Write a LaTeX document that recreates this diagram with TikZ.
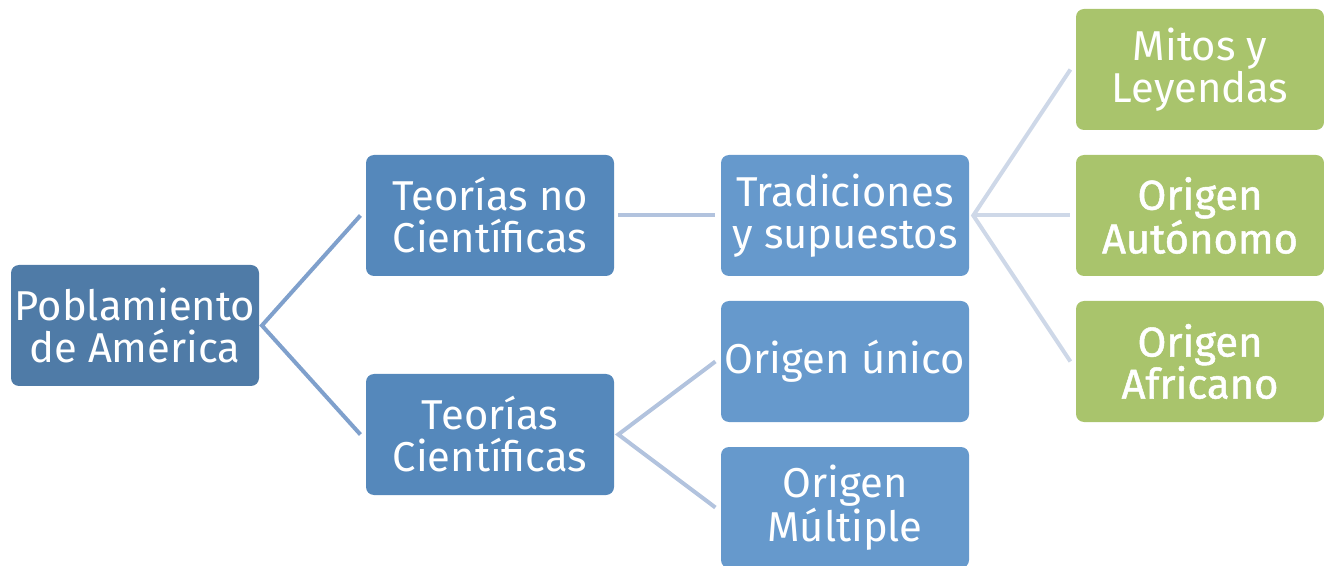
\documentclass[tikz,border=0pt]{standalone}
\usepackage{fontspec}
\setmainfont{Fira Sans}
\newfontfamily\semib[FakeBold=1.2]{Fira Sans}
\definecolor{rootc}{RGB}{79,123,167}
\definecolor{levA}{RGB}{85,136,187}
\definecolor{levB}{RGB}{102,153,204}
\definecolor{greenc}{RGB}{169,196,108}
\definecolor{lineA}{RGB}{127,160,204}
\definecolor{lineB}{RGB}{178,195,222}
\definecolor{lineC}{RGB}{206,216,232}
\tikzset{
  box/.style={rectangle, rounded corners=6pt, minimum width=186pt, minimum height=90.75pt,
    inner sep=0pt, align=center, text=white, font=\fontsize{31.3}{31.5}\selectfont},
  rootbox/.style={box, fill=rootc},
  abox/.style={box, fill=levA},
  bbox/.style={box, fill=levB},
  gbox/.style={box, fill=greenc},
  conn/.style={line width=3pt},
}
\begin{document}
\begin{tikzpicture}[x=0.75pt,y=0.75pt]
\useasboundingbox (0,0) rectangle (1324,-566);
\node[rootbox] (root) at (135,-325.5) {Poblamiento\\de América};
\node[abox] (tnc) at (490,-215.5) {Teorías no\\Científicas};
\node[abox] (tc) at (490,-434.5) {Teorías\\Científicas};
\node[bbox] (trad) at (845,-215.5) {Tradiciones\\y supuestos};
\node[bbox] (unico) at (845,-361.5) {Origen único};
\node[bbox] (mult) at (845,-507.5) {Origen\\Múltiple};
\node[gbox] (mitos) at (1200,-69.5) {Mitos y\\Leyendas};
\node[gbox] (auto) at (1200,-215.5) {\semib Origen\\\semib Autónomo};
\node[gbox] (afr) at (1200,-361.5) {\semib Origen\\\semib Africano};
\coordinate (rootR) at ([xshift=2pt]root.east);
\coordinate (tncR) at ([xshift=3pt]tnc.east);
\coordinate (tcR) at ([xshift=3pt]tc.east);
\coordinate (tradR) at ([xshift=3pt]trad.east);
\draw[conn, lineA] ([xshift=-4pt]tnc.west) -- (rootR) -- ([xshift=-4pt]tc.west);
\draw[conn, lineB] (tncR) -- ([xshift=-4pt]trad.west);
\draw[conn, lineB] ([xshift=-4pt]unico.west) -- (tcR) -- ([xshift=-4pt]mult.west);
\draw[conn, lineC] ([xshift=-4pt]mitos.west) -- (tradR) -- ([xshift=-4pt]afr.west);
\draw[conn, lineC] (tradR) -- ([xshift=-4pt]auto.west);
\end{tikzpicture}
\end{document}
